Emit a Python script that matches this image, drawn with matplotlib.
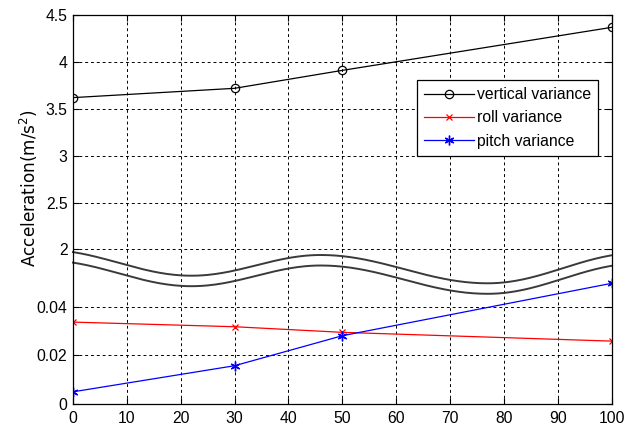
import numpy as np
import matplotlib
matplotlib.use("Agg")
import matplotlib.pyplot as plt
from matplotlib.scale import FuncScale

plt.rcParams['font.family'] = ['Liberation Sans', 'DejaVu Sans']

# ---- data ----
x_vals = [0, 30, 50, 100]
vertical_var = [3.617, 3.716, 3.907, 4.365]
roll_var = [0.0336, 0.0317, 0.0294, 0.0258]
pitch_var = [0.0050, 0.0157, 0.0280, 0.0495]
x_ticks = [0, 10, 20, 30, 40, 50, 60, 70, 80, 90, 100]
y_ticks = [0, 0.02, 0.04, 2, 2.5, 3, 3.5, 4, 4.5]
y_tick_labels = ['0', '0.02', '0.04', '2', '2.5', '3', '3.5', '4', '4.5']

# ---- broken-axis scale (pixel-like units) ----
K1 = 48.8 / 0.02   # lower segment
K2 = 94.0          # upper segment
YB = 0.06
UB = YB * K1
U2 = 154.7


def fwd(y):
    y = np.asarray(y, dtype=float)
    return np.where(y <= YB, y * K1,
                    np.where(y <= 2, UB + (y - YB) * (U2 - UB) / (2 - YB),
                             U2 + (y - 2) * K2))


def inv(u):
    u = np.asarray(u, dtype=float)
    return np.where(u <= UB, u / K1,
                    np.where(u <= U2, YB + (u - UB) * (2 - YB) / (U2 - UB),
                             2 + (u - U2) / K2))


W, H = 633, 426
fig = plt.figure(figsize=(W / 100, H / 100), dpi=100)
ax = fig.add_axes([73 / W, 1 - 404 / H, 538.5 / W, 389.3 / H])
ax.set_yscale(FuncScale(ax, (fwd, inv)))

ax.plot(x_vals, vertical_var, color='black', lw=0.9, marker='o', ms=6,
        mfc='none', mec='black', mew=0.9, label='vertical variance')
ax.plot(x_vals, roll_var, color='red', lw=0.9, marker='x', ms=5,
        mew=0.9, label='roll variance')
ax.plot(x_vals, pitch_var, color='blue', lw=0.9, marker=(6, 2, 0), ms=7,
        mew=1.0, label='pitch variance')

ax.set_xlim(0, 100)
ax.set_ylim(0, 4.5)
ax.set_xticks(x_ticks)
ax.set_yticks(y_ticks)
ax.set_yticklabels(y_tick_labels)
ax.tick_params(direction='in', length=4, width=0.8, top=True, right=True,
               labelsize=11.3)
ax.tick_params(axis='x', pad=5)
ax.tick_params(axis='y', pad=4)
ax.grid(True, color='black', linestyle=(0, (3, 3)), lw=0.7)
for s in ax.spines.values():
    s.set_linewidth(0.9)

# ---- break marks (decoration, axes pixel offsets) ----
ext_x = np.array([-5, 22, 46, 77, 105]) / 100.0
ext_py = np.array([250.0, 275.7, 255.0, 283.3, 253.0])
xs = np.linspace(0, 1, 300)
ys = np.empty_like(xs)
for i in range(len(ext_x) - 1):
    m = (xs >= ext_x[i]) & (xs <= ext_x[i + 1])
    t = (xs[m] - ext_x[i]) / (ext_x[i + 1] - ext_x[i])
    ys[m] = ext_py[i] + (ext_py[i + 1] - ext_py[i]) * (1 - np.cos(np.pi * t)) / 2
for off in (0.0, 10.5):
    ax.plot(xs, (404 - (ys + off)) / 389.3, transform=ax.transAxes,
            color='#3a3a3a', lw=1.4, clip_on=False)

leg = ax.legend(loc='upper left', bbox_to_anchor=(416.7 / W, 1 - 80 / H),
                bbox_transform=fig.transFigure, borderaxespad=0,
                fancybox=False, framealpha=1, edgecolor='black',
                fontsize=11.3, handlelength=3.2, handletextpad=0.2,
                labelspacing=0.53, borderpad=0.45)
leg.get_frame().set_linewidth(0.9)

fig.text(29 / W, 1 - 188 / H, 'Acceleration(m/s$^2$)', rotation=90,
         ha='center', va='center', fontsize=12.2, family='DejaVu Sans')

fig.savefig('out.png', dpi=100)
